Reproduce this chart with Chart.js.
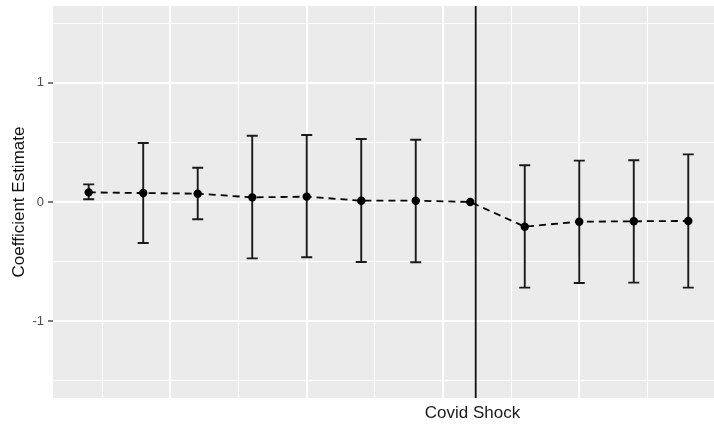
<!DOCTYPE html>
<html>
<head>
<meta charset="utf-8">
<script src="https://cdn.jsdelivr.net/npm/chart.js@4"></script>
<style>
  html, body { margin: 0; padding: 0; background: #fff; }
  #wrap { width: 714px; height: 425px; }
</style>
</head>
<body>
<div id="wrap"><canvas id="chart"></canvas></div>
<script>
// event-study coefficients (period index, estimate, 95% CI)
const periods = [0, 1, 2, 3, 4, 5, 6, 7, 8, 9, 10, 11];
const estimates = [0.081, 0.075, 0.070, 0.039, 0.045, 0.011, 0.011, 0.000, -0.207, -0.165, -0.162, -0.159];
const lowerCI = [0.023, -0.344, -0.145, -0.473, -0.464, -0.503, -0.506, null, -0.719, -0.680, -0.677, -0.719];
const upperCI = [0.148, 0.495, 0.288, 0.556, 0.562, 0.529, 0.523, null, 0.308, 0.347, 0.350, 0.400];
const shockX = 7.1;
const shockLabelX = 7.04;
const shockLabel = 'Covid Shock';
const yTickLabels = [-1, 0, 1];

const xGridMajor = [1.5, 4, 6.5, 9];
const xGridMinor = [0.25, 2.75, 5.25, 7.75, 10.25];
const yGrid = [-1.5, -1, -0.5, 0, 0.5, 1, 1.5];

const FONT = "'Liberation Sans', Arial, Helvetica, sans-serif";

// grey panel like ggplot
const panelBg = {
  id: 'panelBg',
  beforeDraw(chart) {
    const a = chart.chartArea;
    const c = chart.ctx;
    c.save();
    c.fillStyle = '#EBEBEB';
    c.fillRect(a.left, a.top, a.right - a.left, a.bottom - a.top);
    c.restore();
  }
};

// error bars drawn from the CI arrays
const errorBars = {
  id: 'errorBars',
  beforeDatasetsDraw(chart) {
    const c = chart.ctx;
    const xs = chart.scales.x, ys = chart.scales.y;
    c.save();
    c.strokeStyle = '#1a1a1a';
    c.lineWidth = 1.9;
    periods.forEach((p, i) => {
      if (lowerCI[i] == null) return;
      const x = xs.getPixelForValue(p);
      const y1 = ys.getPixelForValue(lowerCI[i]);
      const y2 = ys.getPixelForValue(upperCI[i]);
      c.beginPath();
      c.moveTo(x, y1); c.lineTo(x, y2);
      c.moveTo(x - 5.5, y1); c.lineTo(x + 5.5, y1);
      c.moveTo(x - 5.5, y2); c.lineTo(x + 5.5, y2);
      c.stroke();
    });
    c.restore();
  }
};

const ctx = document.getElementById('chart').getContext('2d');
const chart = new Chart(ctx, {
  type: 'line',
  data: {
    datasets: [{
      label: 'estimate',
      data: periods.map((p, i) => ({ x: p, y: estimates[i] })),
      borderColor: '#000',
      borderWidth: 1.8,
      borderDash: [7, 5],
      pointRadius: 4.2,
      pointBackgroundColor: '#000',
      pointBorderWidth: 0,
      tension: 0,
      order: 1
    }, {
      label: 'shock',
      data: [{ x: shockX, y: -5 }, { x: shockX, y: 5 }],
      borderColor: '#111',
      borderWidth: 1.8,
      pointRadius: 0,
      order: 2
    }]
  },
  options: {
    responsive: true,
    maintainAspectRatio: false,
    animation: false,
    layout: { autoPadding: false, padding: { top: 6, right: 0, bottom: 0, left: 0 } },
    plugins: { legend: { display: false }, tooltip: { enabled: false } },
    scales: {
      x: {
        type: 'linear',
        min: -0.655,
        max: 11.472,
        border: { display: false },
        afterBuildTicks(scale) {
          scale.ticks = xGridMinor.concat(xGridMajor, [shockLabelX]).sort((a, b) => a - b).map(v => ({ value: v }));
        },
        afterFit(scale) {
          scale.height = 27;
          scale.paddingLeft = 0;
          scale.paddingRight = 0;
        },
        grid: {
          color: c => (c.tick && c.tick.value === shockLabelX) ? 'rgba(0,0,0,0)' : '#fff',
          lineWidth: c => (c.tick && xGridMajor.includes(c.tick.value)) ? 2 : 1,
          drawTicks: false
        },
        ticks: {
          autoSkip: false,
          maxRotation: 0,
          padding: 5,
          color: '#1a1a1a',
          font: { family: FONT, size: 17 },
          callback: v => v === shockLabelX ? shockLabel : ''
        }
      },
      y: {
        min: -1.645,
        max: 1.645,
        border: { display: false },
        afterBuildTicks(scale) {
          scale.ticks = yGrid.map(v => ({ value: v }));
        },
        afterFit(scale) {
          scale.width = 53;
          scale.paddingTop = 0;
          scale.paddingBottom = 0;
        },
        grid: {
          color: '#fff',
          lineWidth: c => (c.tick && Number.isInteger(c.tick.value)) ? 2 : 1,
          tickColor: c => (c.tick && yTickLabels.includes(c.tick.value)) ? '#333' : 'rgba(0,0,0,0)',
          tickWidth: 1.3,
          tickLength: 5
        },
        ticks: {
          padding: 4,
          color: '#4D4D4D',
          font: { family: FONT, size: 13 },
          callback: v => yTickLabels.includes(v) ? String(v) : ''
        },
        title: {
          display: true,
          text: 'Coefficient Estimate',
          color: '#111',
          font: { family: FONT, size: 17 },
          padding: { top: 9, bottom: 0 }
        }
      }
    }
  },
  plugins: [panelBg, errorBars]
});
</script>
</body>
</html>
